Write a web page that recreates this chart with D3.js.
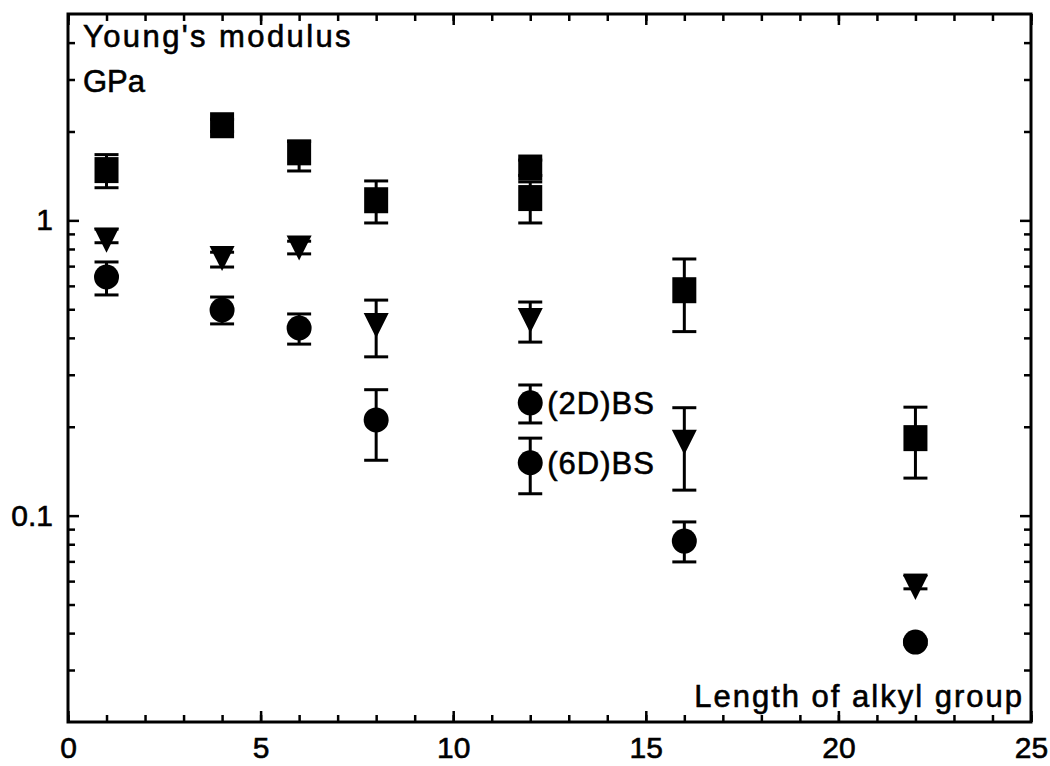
<!DOCTYPE html>
<html>
<head>
<meta charset="utf-8">
<script src="https://cdn.jsdelivr.net/npm/d3@7"></script>
<style>
  body { margin: 0; background: #fff; }
  text { font-family: "Liberation Sans", Arial, Helvetica, sans-serif; fill: #000; stroke: #000; stroke-width: 0.6px; }
</style>
</head>
<body>
<svg id="chart" width="1050" height="766"></svg>
<script>
// axis ticks
const xMajor = [0, 5, 10, 15, 20, 25];
const xMinor = d3.range(0, 26);
const yMajor = [0.1, 1];
const yMinor = [0.03, 0.04, 0.05, 0.06, 0.07, 0.08, 0.09,
                0.2, 0.3, 0.4, 0.5, 0.6, 0.7, 0.8, 0.9, 2, 3, 4];

// squares
const sqX   = [1, 4, 6, 8, 12, 12, 16, 22];
const sqVal = [1.48, 2.10, 1.70, 1.17, 1.51, 1.19, 0.58, 0.183];
const sqLo  = [1.29, 2.00, 1.47, 0.98, 1.42, 0.98, 0.42, 0.134];
const sqHi  = [1.67, 2.20, 1.85, 1.36, 1.60, 1.35, 0.74, 0.233];

// down triangles
const triX   = [1, 4, 6, 8, 12, 16, 22];
const triVal = [0.86, 0.745, 0.81, 0.442, 0.46, 0.178, 0.0573];
const triLo  = [0.84, 0.695, 0.77, 0.345, 0.387, 0.122, 0.0565];
const triHi  = [0.934, 0.78, 0.85, 0.537, 0.529, 0.232, 0.0629];

// circles
const cirX   = [1, 4, 6, 8, 12, 12, 16, 22];
const cirVal = [0.643, 0.497, 0.432, 0.211, 0.241, 0.151, 0.082, 0.0373];
const cirLo  = [0.559, 0.446, 0.381, 0.154, 0.206, 0.1186, 0.0697, 0.0366];
const cirHi  = [0.723, 0.55, 0.482, 0.267, 0.277, 0.183, 0.0952, 0.038];

// labels next to two circle points at 12
const noteIdx  = [4, 5];
const noteText = ["(2D)BS", "(6D)BS"];

const svg = d3.select("#chart");
const mLeft = 68, mRight = 1031, mTop = 14, mBottom = 722;

const x = d3.scaleLinear().domain([0, 25]).range([mLeft, mRight]);
const y = d3.scaleLog().domain([0.02, 5]).range([mBottom, mTop]);

function styleAxis(g) {
  g.select(".domain").remove();
  g.selectAll(".tick line").attr("stroke", "#000").attr("stroke-width", 2.5);
  g.selectAll(".tick text").attr("font-size", 30).attr("fill", "#000");
}

// minor ticks
svg.append("g").attr("transform", `translate(0,${mBottom})`)
  .call(d3.axisBottom(x).tickValues(xMinor).tickSize(-7).tickFormat("")).call(styleAxis);
svg.append("g").attr("transform", `translate(0,${mTop})`)
  .call(d3.axisTop(x).tickValues(xMinor).tickSize(-7).tickFormat("")).call(styleAxis);
svg.append("g").attr("transform", `translate(${mLeft},0)`)
  .call(d3.axisLeft(y).tickValues(yMinor).tickSize(-7).tickFormat("")).call(styleAxis);
svg.append("g").attr("transform", `translate(${mRight},0)`)
  .call(d3.axisRight(y).tickValues(yMinor).tickSize(-7).tickFormat("")).call(styleAxis);

// major ticks
svg.append("g").attr("transform", `translate(0,${mBottom})`)
  .call(d3.axisBottom(x).tickValues(xMajor).tickSize(-11).tickPadding(15).tickFormat(d3.format("d")))
  .call(styleAxis);
svg.append("g").attr("transform", `translate(0,${mTop})`)
  .call(d3.axisTop(x).tickValues(xMajor).tickSize(-11).tickFormat("")).call(styleAxis);
svg.append("g").attr("transform", `translate(${mLeft},0)`)
  .call(d3.axisLeft(y).tickValues(yMajor).tickSize(-11).tickPadding(15).tickFormat(d => d === 1 ? "1" : "0.1"))
  .call(styleAxis);
svg.append("g").attr("transform", `translate(${mRight},0)`)
  .call(d3.axisRight(y).tickValues(yMajor).tickSize(-11).tickFormat("")).call(styleAxis);

// frame
svg.append("rect")
  .attr("x", mLeft).attr("y", mTop)
  .attr("width", mRight - mLeft).attr("height", mBottom - mTop)
  .attr("fill", "none").attr("stroke", "#000").attr("stroke-width", 3);

// error bars
function errorBars(xs, lo, hi) {
  const g = svg.append("g").attr("stroke", "#000").attr("stroke-width", 3);
  xs.forEach((d, i) => {
    const cx = x(d);
    g.append("line").attr("x1", cx).attr("x2", cx).attr("y1", y(lo[i])).attr("y2", y(hi[i]));
    g.append("line").attr("x1", cx - 12).attr("x2", cx + 12).attr("y1", y(lo[i])).attr("y2", y(lo[i]));
    g.append("line").attr("x1", cx - 12).attr("x2", cx + 12).attr("y1", y(hi[i])).attr("y2", y(hi[i]));
  });
}
errorBars(sqX, sqLo, sqHi);
errorBars(triX, triLo, triHi);
errorBars(cirX, cirLo, cirHi);

// squares
svg.append("g").selectAll("rect")
  .data(sqX).join("rect")
  .attr("x", d => x(d) - 12)
  .attr("y", (d, i) => y(sqVal[i]) - 13)
  .attr("width", 24).attr("height", 26)
  .attr("fill", "#000");

// down triangles
svg.append("g").selectAll("path")
  .data(triX).join("path")
  .attr("d", (d, i) => {
    const cx = x(d), cy = y(triVal[i]);
    return `M${cx - 12.5},${cy - 12}L${cx + 12.5},${cy - 12}L${cx},${cy + 13}Z`;
  })
  .attr("fill", "#000");

// circles
svg.append("g").selectAll("circle")
  .data(cirX).join("circle")
  .attr("cx", d => x(d))
  .attr("cy", (d, i) => y(cirVal[i]))
  .attr("r", 12.5)
  .attr("fill", "#000");

// point notes
noteIdx.forEach((idx, k) => {
  svg.append("text")
    .attr("x", x(cirX[idx]) + 17)
    .attr("y", y(cirVal[idx]))
    .attr("dy", "0.35em")
    .attr("font-size", 31)
    .attr("letter-spacing", 1)
    .text(noteText[k]);
});

// axis titles
svg.append("text").attr("x", mLeft + 15).attr("y", 47)
  .attr("font-size", 31).attr("letter-spacing", 2.4).text("Young's modulus");
svg.append("text").attr("x", mLeft + 15).attr("y", 92)
  .attr("font-size", 31).text("GPa");
svg.append("text").attr("x", mRight - 7).attr("y", 707)
  .attr("text-anchor", "end")
  .attr("font-size", 31).attr("letter-spacing", 2).text("Length of alkyl group");
</script>
</body>
</html>
